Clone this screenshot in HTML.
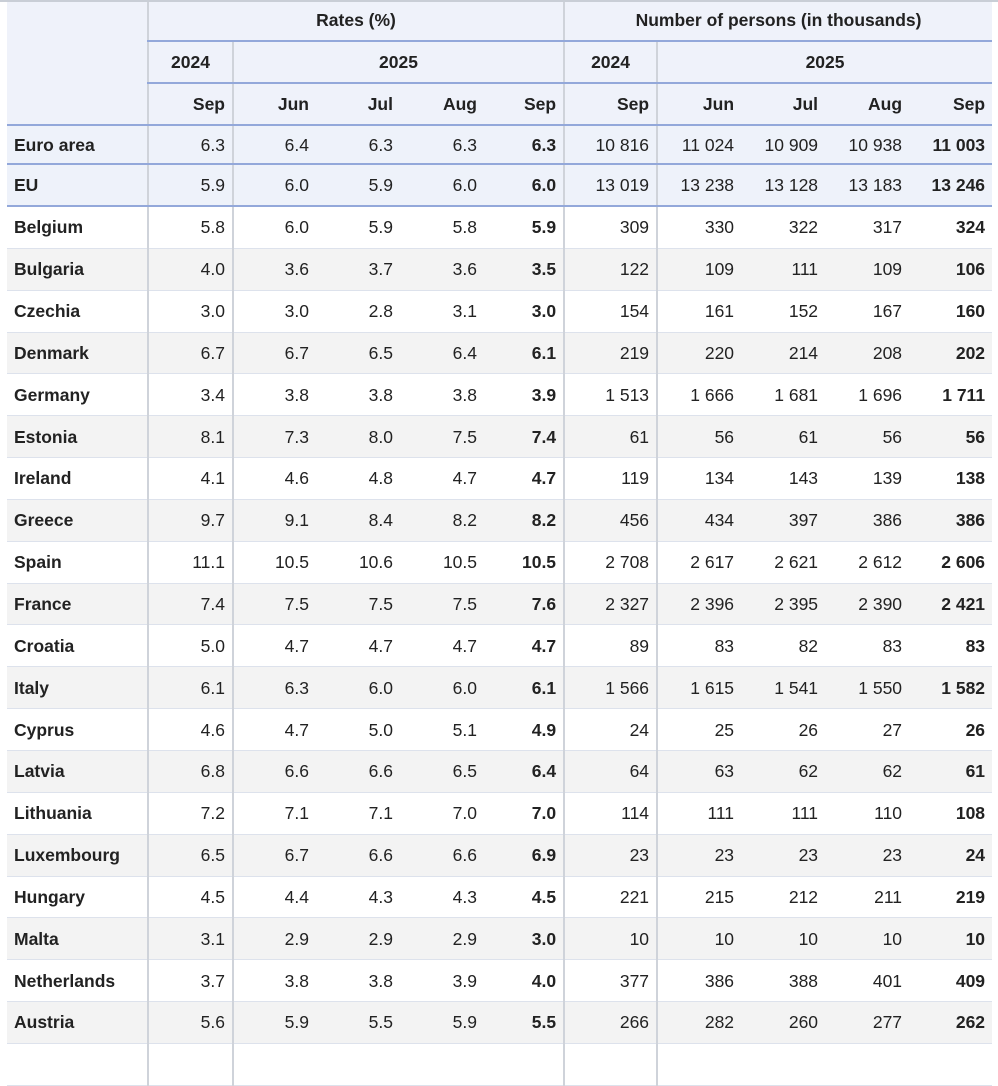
<!DOCTYPE html>
<html><head><meta charset="utf-8"><style>
html,body{margin:0;padding:0;background:#fff;width:998px;height:1046px;overflow:hidden}
table{position:absolute;left:7px;top:0;border-collapse:collapse;table-layout:fixed;width:985px;font-family:"Liberation Sans",Arial,sans-serif;font-size:17.5px;color:#222;line-height:20px}
td,th{padding:0 7px;height:40.85px;text-align:right;border-bottom:1px solid #dde2ec;white-space:nowrap;overflow:hidden}
thead th{background:#eff2fa;font-weight:bold;height:40px;border-bottom:2px solid #93a8da}
th.c{text-align:center}
td.l{text-align:left;font-weight:bold}
td.b{font-weight:bold}
.v{border-left:2px solid #cfd3da}
tr.hl td{background:#eef2fa;border-bottom:2px solid #93a8da}
tr.e td{height:37px}
tr.u td{height:40px}
tbody tr:nth-child(even) td{background:#f3f3f3}
tbody tr.hl td{background:#eef2fa}
#tl{position:absolute;left:0;top:0;width:998px;height:2px;background:#c9ced6;z-index:2}
</style></head><body>
<div id="tl"></div>
<table>
<colgroup><col style="width:141px"><col style="width:85px"><col style="width:83px"><col style="width:84px"><col style="width:84px"><col style="width:80px"><col style="width:93px"><col style="width:84px"><col style="width:84px"><col style="width:84px"><col style="width:83px"></colgroup>
<thead>
<tr><th rowspan="3" style="border-bottom:2px solid #93a8da"></th><th colspan="5" class="c v">Rates (%)</th><th colspan="5" class="c v">Number of persons (in thousands)</th></tr>
<tr><th class="c v">2024</th><th colspan="4" class="c v">2025</th><th class="c v">2024</th><th colspan="4" class="c v">2025</th></tr>
<tr><th class="v">Sep</th><th class="v">Jun</th><th>Jul</th><th>Aug</th><th>Sep</th><th class="v">Sep</th><th class="v">Jun</th><th>Jul</th><th>Aug</th><th>Sep</th></tr>
</thead>
<tbody>
<tr class="hl e"><td class="l">Euro area</td><td class="v">6.3</td><td class="v">6.4</td><td>6.3</td><td>6.3</td><td class="b">6.3</td><td class="v">10 816</td><td class="v">11 024</td><td>10 909</td><td>10 938</td><td class="b">11 003</td></tr>
<tr class="hl u"><td class="l">EU</td><td class="v">5.9</td><td class="v">6.0</td><td>5.9</td><td>6.0</td><td class="b">6.0</td><td class="v">13 019</td><td class="v">13 238</td><td>13 128</td><td>13 183</td><td class="b">13 246</td></tr>
<tr><td class="l">Belgium</td><td class="v">5.8</td><td class="v">6.0</td><td>5.9</td><td>5.8</td><td class="b">5.9</td><td class="v">309</td><td class="v">330</td><td>322</td><td>317</td><td class="b">324</td></tr>
<tr><td class="l">Bulgaria</td><td class="v">4.0</td><td class="v">3.6</td><td>3.7</td><td>3.6</td><td class="b">3.5</td><td class="v">122</td><td class="v">109</td><td>111</td><td>109</td><td class="b">106</td></tr>
<tr><td class="l">Czechia</td><td class="v">3.0</td><td class="v">3.0</td><td>2.8</td><td>3.1</td><td class="b">3.0</td><td class="v">154</td><td class="v">161</td><td>152</td><td>167</td><td class="b">160</td></tr>
<tr><td class="l">Denmark</td><td class="v">6.7</td><td class="v">6.7</td><td>6.5</td><td>6.4</td><td class="b">6.1</td><td class="v">219</td><td class="v">220</td><td>214</td><td>208</td><td class="b">202</td></tr>
<tr><td class="l">Germany</td><td class="v">3.4</td><td class="v">3.8</td><td>3.8</td><td>3.8</td><td class="b">3.9</td><td class="v">1 513</td><td class="v">1 666</td><td>1 681</td><td>1 696</td><td class="b">1 711</td></tr>
<tr><td class="l">Estonia</td><td class="v">8.1</td><td class="v">7.3</td><td>8.0</td><td>7.5</td><td class="b">7.4</td><td class="v">61</td><td class="v">56</td><td>61</td><td>56</td><td class="b">56</td></tr>
<tr><td class="l">Ireland</td><td class="v">4.1</td><td class="v">4.6</td><td>4.8</td><td>4.7</td><td class="b">4.7</td><td class="v">119</td><td class="v">134</td><td>143</td><td>139</td><td class="b">138</td></tr>
<tr><td class="l">Greece</td><td class="v">9.7</td><td class="v">9.1</td><td>8.4</td><td>8.2</td><td class="b">8.2</td><td class="v">456</td><td class="v">434</td><td>397</td><td>386</td><td class="b">386</td></tr>
<tr><td class="l">Spain</td><td class="v">11.1</td><td class="v">10.5</td><td>10.6</td><td>10.5</td><td class="b">10.5</td><td class="v">2 708</td><td class="v">2 617</td><td>2 621</td><td>2 612</td><td class="b">2 606</td></tr>
<tr><td class="l">France</td><td class="v">7.4</td><td class="v">7.5</td><td>7.5</td><td>7.5</td><td class="b">7.6</td><td class="v">2 327</td><td class="v">2 396</td><td>2 395</td><td>2 390</td><td class="b">2 421</td></tr>
<tr><td class="l">Croatia</td><td class="v">5.0</td><td class="v">4.7</td><td>4.7</td><td>4.7</td><td class="b">4.7</td><td class="v">89</td><td class="v">83</td><td>82</td><td>83</td><td class="b">83</td></tr>
<tr><td class="l">Italy</td><td class="v">6.1</td><td class="v">6.3</td><td>6.0</td><td>6.0</td><td class="b">6.1</td><td class="v">1 566</td><td class="v">1 615</td><td>1 541</td><td>1 550</td><td class="b">1 582</td></tr>
<tr><td class="l">Cyprus</td><td class="v">4.6</td><td class="v">4.7</td><td>5.0</td><td>5.1</td><td class="b">4.9</td><td class="v">24</td><td class="v">25</td><td>26</td><td>27</td><td class="b">26</td></tr>
<tr><td class="l">Latvia</td><td class="v">6.8</td><td class="v">6.6</td><td>6.6</td><td>6.5</td><td class="b">6.4</td><td class="v">64</td><td class="v">63</td><td>62</td><td>62</td><td class="b">61</td></tr>
<tr><td class="l">Lithuania</td><td class="v">7.2</td><td class="v">7.1</td><td>7.1</td><td>7.0</td><td class="b">7.0</td><td class="v">114</td><td class="v">111</td><td>111</td><td>110</td><td class="b">108</td></tr>
<tr><td class="l">Luxembourg</td><td class="v">6.5</td><td class="v">6.7</td><td>6.6</td><td>6.6</td><td class="b">6.9</td><td class="v">23</td><td class="v">23</td><td>23</td><td>23</td><td class="b">24</td></tr>
<tr><td class="l">Hungary</td><td class="v">4.5</td><td class="v">4.4</td><td>4.3</td><td>4.3</td><td class="b">4.5</td><td class="v">221</td><td class="v">215</td><td>212</td><td>211</td><td class="b">219</td></tr>
<tr><td class="l">Malta</td><td class="v">3.1</td><td class="v">2.9</td><td>2.9</td><td>2.9</td><td class="b">3.0</td><td class="v">10</td><td class="v">10</td><td>10</td><td>10</td><td class="b">10</td></tr>
<tr><td class="l">Netherlands</td><td class="v">3.7</td><td class="v">3.8</td><td>3.8</td><td>3.9</td><td class="b">4.0</td><td class="v">377</td><td class="v">386</td><td>388</td><td>401</td><td class="b">409</td></tr>
<tr><td class="l">Austria</td><td class="v">5.6</td><td class="v">5.9</td><td>5.5</td><td>5.9</td><td class="b">5.5</td><td class="v">266</td><td class="v">282</td><td>260</td><td>277</td><td class="b">262</td></tr>
<tr><td class="l"></td><td class="v"></td><td class="v"></td><td></td><td></td><td></td><td class="v"></td><td class="v"></td><td></td><td></td><td></td></tr>
</tbody>
</table>
</body></html>
